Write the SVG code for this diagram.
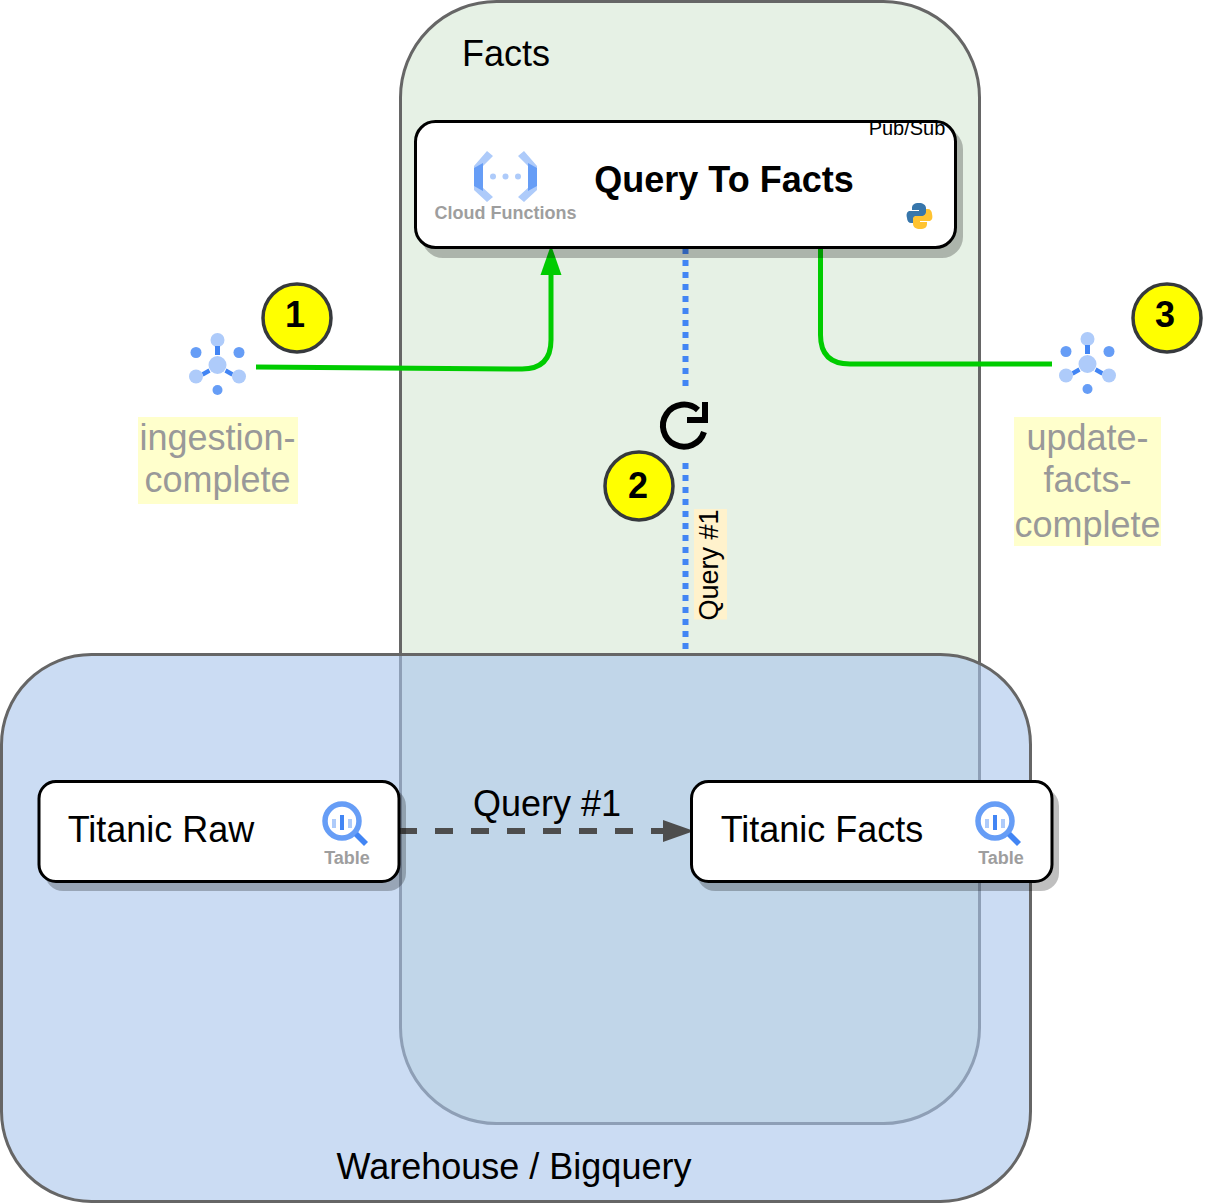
<svg xmlns="http://www.w3.org/2000/svg" width="1206" height="1203" viewBox="0 0 1206 1203">
<defs>
<style>
text{font-family:"Liberation Sans",Arial,sans-serif;text-anchor:middle;fill:#000}
.card{fill:#fff;stroke:#000;stroke-width:3}
.shadow{fill:#000;opacity:.25}
.cap{font-weight:700;fill:#9e9e9e}
.gray{font-size:36px;fill:#999}
.hl{fill:#ffffcc}
.badge circle{fill:#ffff00;stroke:#36393d;stroke-width:3.500}
.badge text{font-size:36px;font-weight:700}
.lt{fill:#aecbfa}.md{fill:#669df6}.dk{fill:#4285f4}
</style>
<g id="topic"><circle class="lt" cx="0" cy="-25" r="7"/><rect class="dk" x="-2.500" y="-19" width="5" height="9"/><circle class="md" cx="-21.500" cy="-12.500" r="5.500"/><circle class="md" cx="21.500" cy="-12.500" r="5.500"/><circle class="lt" cx="0" cy="0" r="9"/><path class="dk" d="M-9 3.500l2 4-7 4-2-4zM9 3.500l-2 4 7 4 2-4z"/><circle class="lt" cx="-21.500" cy="11.500" r="7"/><circle class="lt" cx="21.500" cy="11.500" r="7"/><circle class="md" cx="0" cy="25" r="5"/></g>
<g id="bq"><circle cx="20" cy="20" r="17" fill="none" stroke="#669df6" stroke-width="5.500"/><rect class="lt" x="10" y="18" width="4" height="9"/><rect class="dk" x="18" y="14" width="4" height="15"/><rect class="lt" x="26" y="18" width="4" height="9"/><path class="dk" d="M32 35l4-4 10 10-4 4z"/></g>
</defs>
<g id="facts"><rect x="400.500" y="1.500" width="579" height="1122" rx="96" fill="#d5e8d4" fill-opacity=".6" stroke="#666" stroke-width="3"/><text x="506" y="66" font-size="36">Facts</text></g>
<g id="warehouse"><rect x="1.500" y="654.500" width="1029" height="547" rx="90" fill="#a9c4eb" fill-opacity=".6" stroke="#666" stroke-width="3" /><text x="514" y="1179" font-size="36">Warehouse / Bigquery</text></g>
<g id="connectors" fill="none">
<path d="M256 367L522 369Q551 369 551 340V275" stroke="#00cc00" stroke-width="5"/>
<path d="M551 245l-10.500 30h21z" fill="#00cc00"/>
<path d="M820.500 248V335Q820.500 364 850 364H1052" stroke="#00cc00" stroke-width="5"/>
<path d="M685.500 248V386M685.500 463V650" stroke="#4285f4" stroke-width="6" stroke-dasharray="6 6"/>
<path d="M399 831H665" stroke="#4d4d4d" stroke-width="6" stroke-dasharray="18 18"/>
<path d="M694 831l-31-11v22z" fill="#4d4d4d"/>
</g>
<g id="loop-icon" fill="none" stroke="#000" stroke-width="6"><path d="M704 432A21 21 0 1 1 698 410"/><path d="M687 420H705V402"/></g>
<g id="label-query-vertical"><rect x="694" y="509" width="33" height="110.500" fill="#fff2cc"/><text transform="translate(718 565) rotate(-90)" font-size="27">Query #1</text></g>
<g id="label-query-horizontal"><text x="547" y="816" font-size="36">Query #1</text></g>
<g id="query-to-facts">
<rect class="shadow" x="422" y="128" width="541" height="130" rx="21"/>
<rect class="card" x="415.500" y="121.500" width="540" height="126" rx="20"/>
<path class="lt" d="M474 166L487 151L493 156L481 168V186L493 197L487 202L474 190Z"/><path class="md" d="M474 168L483 163V191L474 186Z"/>
<path class="lt" d="M537 166L524 151L518 156L530 168V186L518 197L524 202L537 190Z"/><path class="md" d="M537 168L528 163V191L537 186Z"/>
<circle class="lt" cx="493" cy="176.500" r="3"/><circle class="lt" cx="505.500" cy="176.500" r="3"/><circle class="lt" cx="518" cy="176.500" r="3"/>
<text class="cap" x="505.500" y="219" font-size="18">Cloud Functions</text>
<text x="724" y="192" font-size="36" font-weight="700">Query To Facts</text>
<text x="907" y="135" font-size="20">Pub/Sub</text>
<path d="M919 203c-5 0-7 2-7 5v2h7v1h-10c-2 1-3 3-2 7 0 3 2 5 4 5h2v-3c0-2 2-4 4-4h6c2 0 3-1 3-3v-5c0-3-3-5-7-5z" fill="#3776ab"/>
<path d="M920 229c5 0 7-2 7-5v-2h-7v-1h10c2-1 3-3 2-7 0-3-2-5-4-5h-2v3c0 2-2 4-4 4h-6c-2 0-3 1-3 3v5c0 3 3 5 7 5z" fill="#ffc331"/>
</g>
<g id="titanic-raw">
<rect class="shadow" x="45" y="788" width="361" height="103" rx="18"/>
<rect class="card" x="39" y="781.500" width="360" height="100" rx="17"/>
<text x="161" y="842" font-size="36">Titanic Raw</text>
<use href="#bq" x="322" y="801"/>
<text class="cap" x="347" y="864" font-size="18">Table</text>
</g>
<g id="titanic-facts">
<rect class="shadow" x="697" y="788" width="362" height="103" rx="18"/>
<rect class="card" x="691.500" y="781.500" width="360.500" height="100" rx="17"/>
<text x="822" y="842" font-size="36">Titanic Facts</text>
<use href="#bq" x="975" y="801"/>
<text class="cap" x="1001" y="864" font-size="18">Table</text>
</g>
<g id="ingestion-complete">
<use href="#topic" x="217.500" y="365"/>
<rect class="hl" x="138" y="417" width="160" height="87"/>
<text class="gray" x="217.500" y="450">ingestion-</text><text class="gray" x="217.500" y="492">complete</text>
</g>
<g id="update-facts-complete">
<use href="#topic" x="1087.500" y="364"/>
<rect class="hl" x="1014" y="417" width="147" height="129"/>
<text class="gray" x="1087.500" y="450">update-</text><text class="gray" x="1087.500" y="492">facts-</text><text class="gray" x="1087.500" y="537">complete</text>
</g>
<g id="badge-1" class="badge"><circle cx="297" cy="318" r="34"/><text x="295" y="327">1</text></g>
<g id="badge-2" class="badge"><circle cx="639" cy="486" r="34"/><text x="638" y="498">2</text></g>
<g id="badge-3" class="badge"><circle cx="1167" cy="318" r="34"/><text x="1165" y="327">3</text></g>
</svg>
